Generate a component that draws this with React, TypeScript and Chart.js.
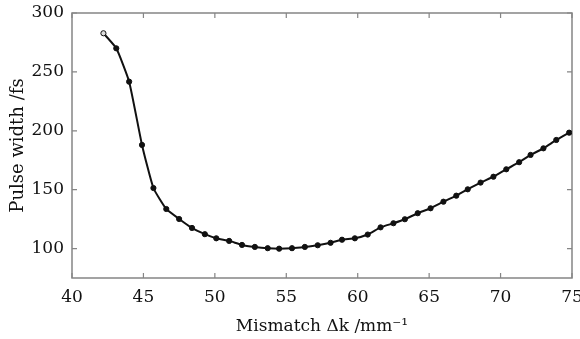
import React, { useEffect, useRef } from "react";
import { Chart, registerables } from "chart.js";

Chart.register(...registerables);

const mismatch = [
  42.2, 43.1, 44.0, 44.9, 45.7, 46.6, 47.5, 48.4, 49.3, 50.1, 51.0, 51.9, 52.8,
  53.7, 54.5, 55.4, 56.3, 57.2, 58.1, 58.9, 59.8, 60.7, 61.6, 62.5, 63.3, 64.2,
  65.1, 66.0, 66.9, 67.7, 68.6, 69.5, 70.4, 71.3, 72.1, 73.0, 73.9, 74.8,
];
const pulseWidth = [
  282.8, 270.0, 241.7, 188.0, 151.4, 133.6, 125.1, 117.5, 112.2, 108.7, 106.5,
  103.1, 101.4, 100.3, 99.9, 100.3, 101.4, 102.8, 104.9, 107.5, 108.7, 111.9,
  118.0, 121.5, 124.9, 130.0, 134.2, 139.8, 144.9, 150.3, 156.0, 161.0, 167.3,
  173.3, 179.5, 185.1, 192.2, 198.4,
];
const xTicks = [40, 45, 50, 55, 60, 65, 70, 75];
const yTicks = [100, 150, 200, 250, 300];

const FONT = "'DejaVu Serif', serif";
const AXIS_COLOR = "#858585";

const frameTicks = {
  id: "frameTicks",
  beforeDatasetsDraw(chart: any) {
    const { ctx, chartArea } = chart;
    const { left, right, top, bottom } = chartArea;
    const xs = chart.scales.x;
    const ys = chart.scales.y;
    ctx.save();
    ctx.strokeStyle = AXIS_COLOR;
    ctx.lineWidth = 1.5;
    ctx.strokeRect(left, top, right - left, bottom - top);
    ctx.lineWidth = 1.2;
    const len = 5;
    ctx.beginPath();
    for (const v of xTicks) {
      const px = xs.getPixelForValue(v);
      ctx.moveTo(px, bottom);
      ctx.lineTo(px, bottom - len);
      ctx.moveTo(px, top);
      ctx.lineTo(px, top + len);
    }
    for (const v of yTicks) {
      const py = ys.getPixelForValue(v);
      ctx.moveTo(left, py);
      ctx.lineTo(left + len, py);
      ctx.moveTo(right, py);
      ctx.lineTo(right - len, py);
    }
    ctx.stroke();
    ctx.restore();
  },
};

export default function App() {
  const ref = useRef<HTMLCanvasElement | null>(null);

  useEffect(() => {
    if (!ref.current) return;
    const chart = new Chart(ref.current, {
      type: "line",
      data: {
        datasets: [
          {
            data: mismatch.map((x, i) => ({ x, y: pulseWidth[i] })),
            borderColor: "#111",
            borderWidth: 2,
            pointRadius: 2.6,
            pointBorderWidth: 1,
            pointBorderColor: "#111",
            pointBackgroundColor: mismatch.map((_, i) => (i === 0 ? "#ddd" : "#111")),
            tension: 0.15,
            fill: false,
          },
        ],
      },
      options: {
        animation: false,
        responsive: false,
        maintainAspectRatio: false,
        layout: { padding: { top: 13, right: 8, left: 0, bottom: 0 } },
        plugins: {
          legend: { display: false },
          tooltip: { enabled: false },
        },
        scales: {
          x: {
            type: "linear",
            min: 40,
            max: 75,
            afterBuildTicks: (s: any) => {
              s.ticks = xTicks.map((v) => ({ value: v }));
            },
            afterFit: (s: any) => {
              s.height = 61;
              s.paddingLeft = 0;
              s.paddingRight = 0;
            },
            grid: { display: true, drawOnChartArea: false, drawTicks: false },
            border: { display: false },
            ticks: {
              color: "#111",
              font: { family: FONT, size: 17 },
              padding: 9,
              maxRotation: 0,
            },
            title: {
              display: true,
              text: "Mismatch Δk /mm⁻¹",
              color: "#111",
              font: { family: FONT, size: 17 },
              padding: { top: 2, bottom: 2 },
            },
          },
          y: {
            type: "linear",
            min: 75,
            max: 300,
            afterBuildTicks: (s: any) => {
              s.ticks = yTicks.map((v) => ({ value: v }));
            },
            afterFit: (s: any) => {
              s.width = 72;
              s.paddingTop = 0;
              s.paddingBottom = 0;
            },
            grid: { display: true, drawOnChartArea: false, drawTicks: false },
            border: { display: false },
            ticks: {
              color: "#111",
              font: { family: FONT, size: 17 },
              padding: 8,
            },
            title: {
              display: true,
              text: "Pulse width /fs",
              color: "#111",
              font: { family: FONT, size: 18 },
              padding: { top: 8, bottom: 2 },
            },
          },
        },
      },
      plugins: [frameTicks],
    });
    return () => chart.destroy();
  }, []);

  return (
    <div style={{ position: "absolute", left: 0, top: 0, width: 580, height: 339, background: "#fff" }}>
      <canvas ref={ref} width={580} height={339} style={{ width: 580, height: 339, display: "block" }} />
    </div>
  );
}
